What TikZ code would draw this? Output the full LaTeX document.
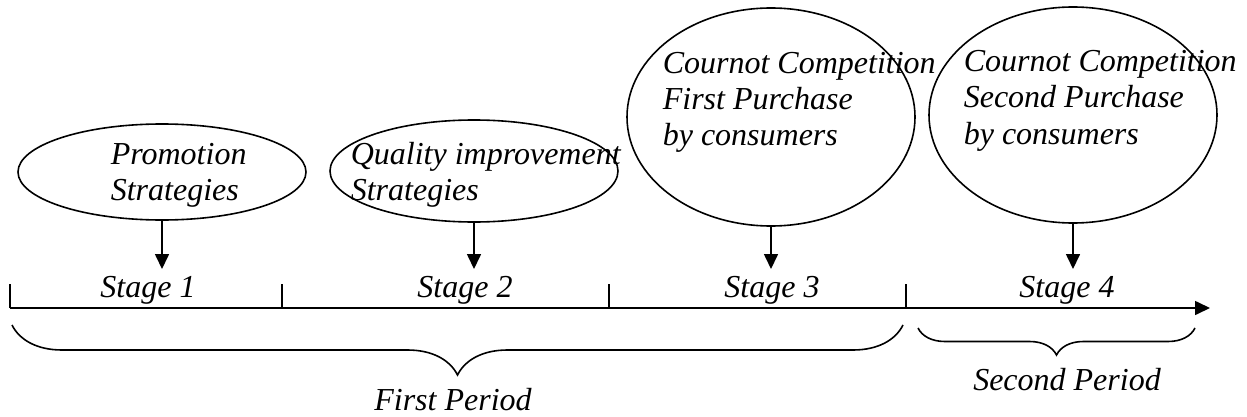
\documentclass[tikz,border=0pt]{standalone}
\usepackage{fontspec}
\setmainfont{Liberation Serif}
\usetikzlibrary{shapes.geometric, arrows.meta, decorations.pathreplacing}

\begin{document}
\begin{tikzpicture}[x=.5pt, y=-.5pt, line width=.8pt,
    txt/.style={font=\itshape\fontsize{16}{18}\selectfont, align=left, inner sep=0pt},
    oval/.style={draw, ellipse, inner sep=0pt, minimum width=144pt},
    >={Triangle[length=7.5pt, width=7pt]}]
    \useasboundingbox (0, 0) rectangle (1247, 417);

    % ovals with the decisions of each stage
    \node [oval, minimum height=48pt] (e1) at (162, 172) {};
    \node [oval, minimum height=51pt] (e2) at (474, 171) {};
    \node [oval, minimum height=109pt] (e3) at (771, 117) {};
    \node [oval, minimum height=108pt] (e4) at (1073, 115) {};

    % (base is the last line here)
    \node [txt, anchor=base west] (t1) at (110, 200) {Promotion\\Strategies};
    \node [txt, anchor=base west] (t2) at (350, 200) {Quality improvement\\Strategies};
    \node [txt, anchor=base west] (t3) at (662, 146) {Cournot Competition\\First Purchase\\by consumers};
    \node [txt, anchor=base west] (t4) at (963, 144) {Cournot Competition\\Second Purchase\\by consumers};

    % stage labels on the time line
    \node [txt, anchor=base] (s1) at (148, 297) {Stage 1};
    \node [txt, anchor=base] (s2) at (465, 297) {Stage 2};
    \node [txt, anchor=base] (s3) at (772, 297) {Stage 3};
    \node [txt, anchor=base] (s4) at (1067, 297) {Stage 4};

    \draw [->, shorten >=3pt] (e1.south) -- (e1.south |- s1.north);
    \draw [->, shorten >=3pt] (e2.south) -- (e2.south |- s2.north);
    \draw [->, shorten >=3pt] (e3.south) -- (e3.south |- s3.north);
    \draw [->, shorten >=3pt] (e4.south) -- (e4.south |- s4.north);

    % time line and ticks
    \coordinate (a0) at (10, 308);
    \coordinate (a1) at (282, 308);
    \coordinate (a2) at (609, 308);
    \coordinate (a3) at (906, 308);
    \coordinate (aend) at (1210, 308);
    \draw [->] (a0) -- (aend);
    \foreach \c in {a0, a1, a2, a3}
      \draw (\c) -- ++(0, -24);

    % periods
    \coordinate (b1l) at (12, 325);
    \coordinate (b1r) at (903, 325);
    \coordinate (b2l) at (918, 328);
    \coordinate (b2r) at (1195, 328);
    \draw [decorate, decoration={brace, mirror, amplitude=25pt}] (b1l) -- (b1r);
    \draw [decorate, decoration={brace, mirror, amplitude=13.5pt}] (b2l) -- (b2r);

    \node [txt, anchor=base] (p1) at (453, 410) {First Period};
    \node [txt, anchor=base] (p2) at (1067, 390) {Second Period};
  \end{tikzpicture}
\end{document}
